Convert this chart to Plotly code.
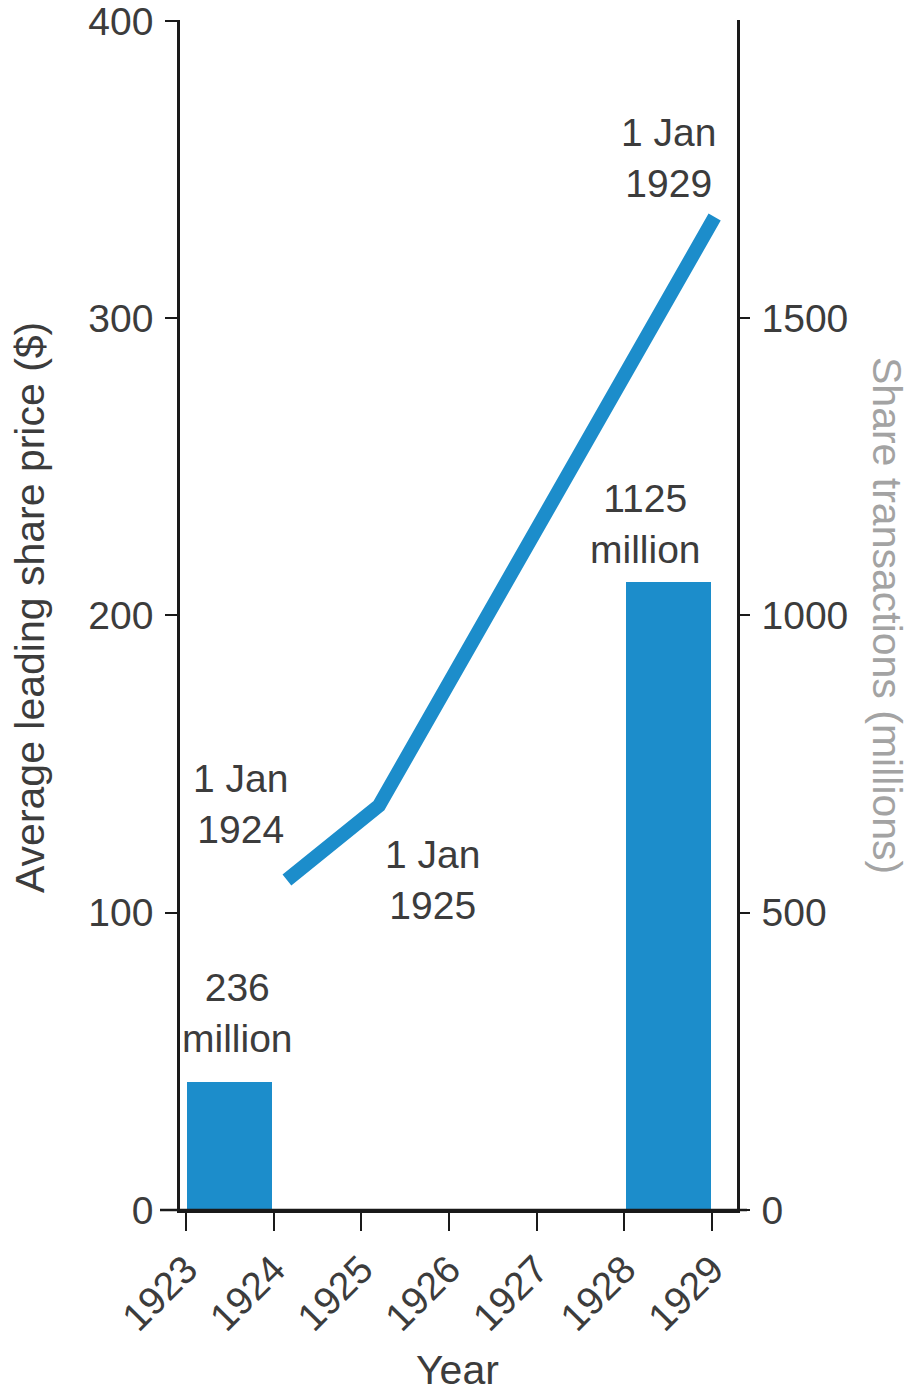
import plotly.graph_objects as go

# ---- data ----
price_dates = [1924.15, 1925.2, 1929.03]          # positions of "1 Jan" points as drawn
price_values = [111, 136, 334]                     # average leading share price ($)
bar_years = [1923.49, 1928.505]                    # bars span 1923-1924 and 1928-1929
bar_values = [215, 1057]                           # share transactions (millions), as drawn
bar_labels = ["236<br>million", "1125<br>million"]
x_ticks = [1923, 1924, 1925, 1926, 1927, 1928, 1929]
left_ticks = [0, 100, 200, 300, 400]
right_ticks = [0, 500, 1000, 1500]

BLUE = "#1c8dcb"
TXT = "#3c3c3c"
FONT = "Liberation Sans, Arial, sans-serif"
FS = 39
TFS = 41

fig = go.Figure()
fig.add_trace(go.Bar(x=bar_years, y=bar_values, width=0.97, marker=dict(color=BLUE, line=dict(width=0)),
                     yaxis="y2", showlegend=False))
fig.add_trace(go.Scatter(x=price_dates, y=price_values, mode="lines",
                         line=dict(color=BLUE, width=14), showlegend=False))

annots = [
    dict(x=1923.62, y=136.5, text="1 Jan<br>1924"),
    dict(x=1925.81, y=110.9, text="1 Jan<br>1925"),
    dict(x=1928.5, y=353.9, text="1 Jan<br>1929"),
    dict(x=1923.59, y=66.2, text=bar_labels[0]),
    dict(x=1928.24, y=230.6, text=bar_labels[1]),
]
annotations = []
for a in annots:
    annotations.append(dict(x=a["x"], y=a["y"], xref="x", yref="y", text=a["text"], showarrow=False,
                            xanchor="center", yanchor="middle",
                            font=dict(family=FONT, size=FS, color=TXT)))
# axis titles
annotations.append(dict(x=-0.2693, y=0.5067, xref="paper", yref="paper", text="Average leading share price ($)",
                        textangle=-90, showarrow=False, xanchor="center", yanchor="middle",
                        font=dict(family=FONT, size=TFS, color=TXT)))
annotations.append(dict(x=1.2693, y=0.5, xref="paper", yref="paper", text="Share transactions (millions)",
                        textangle=90, showarrow=False, xanchor="center", yanchor="middle",
                        font=dict(family=FONT, size=TFS, color="#a3a3a3")))
annotations.append(dict(x=0.4991, y=-0.1345, xref="paper", yref="paper", text="Year",
                        showarrow=False, xanchor="center", yanchor="middle",
                        font=dict(family=FONT, size=TFS, color=TXT)))

shapes = [
    # x-axis line extends slightly beyond both vertical axes
    dict(type="line", xref="paper", yref="paper", x0=-20 / 557, x1=1 + 10 / 557, y0=0, y1=0,
         line=dict(color="#1a1a1a", width=2.5)),
]

fig.update_layout(
    width=913, height=1392,
    margin=dict(l=180, r=176, t=20, b=182, autoexpand=False),
    paper_bgcolor="white", plot_bgcolor="white",
    font=dict(family=FONT, size=FS, color=TXT),
    bargap=0,
    annotations=annotations,
    shapes=shapes,
    xaxis=dict(range=[1922.93, 1929.285], tickvals=x_ticks, ticktext=[str(t) for t in x_ticks],
               tickangle=-45, ticks="outside", ticklen=18, tickwidth=2, tickcolor="#1a1a1a",
               showline=True, linecolor="#1a1a1a", linewidth=2.5, showgrid=False, zeroline=False,
               automargin=False, tickfont=dict(family=FONT, size=FS, color=TXT)),
    yaxis=dict(range=[0, 400.3], tickvals=left_ticks, ticks="outside", ticklen=12, tickwidth=2,
               tickcolor="#1a1a1a", showline=True, linecolor="#1a1a1a", linewidth=2.5,
               showgrid=False, zeroline=False, ticklabelstandoff=4, ticklabeloverflow="allow",
               automargin=False, tickfont=dict(family=FONT, size=FS, color=TXT)),
    yaxis2=dict(range=[0, 2001.5], tickvals=right_ticks, overlaying="y", side="right",
                ticks="outside", ticklen=10, tickwidth=2, tickcolor="#1a1a1a",
                showline=True, linecolor="#1a1a1a", linewidth=2.5, showgrid=False, zeroline=False,
                automargin=False, ticklabelstandoff=4, tickfont=dict(family=FONT, size=FS, color=TXT)),
)

fig.write_html("out.html")
